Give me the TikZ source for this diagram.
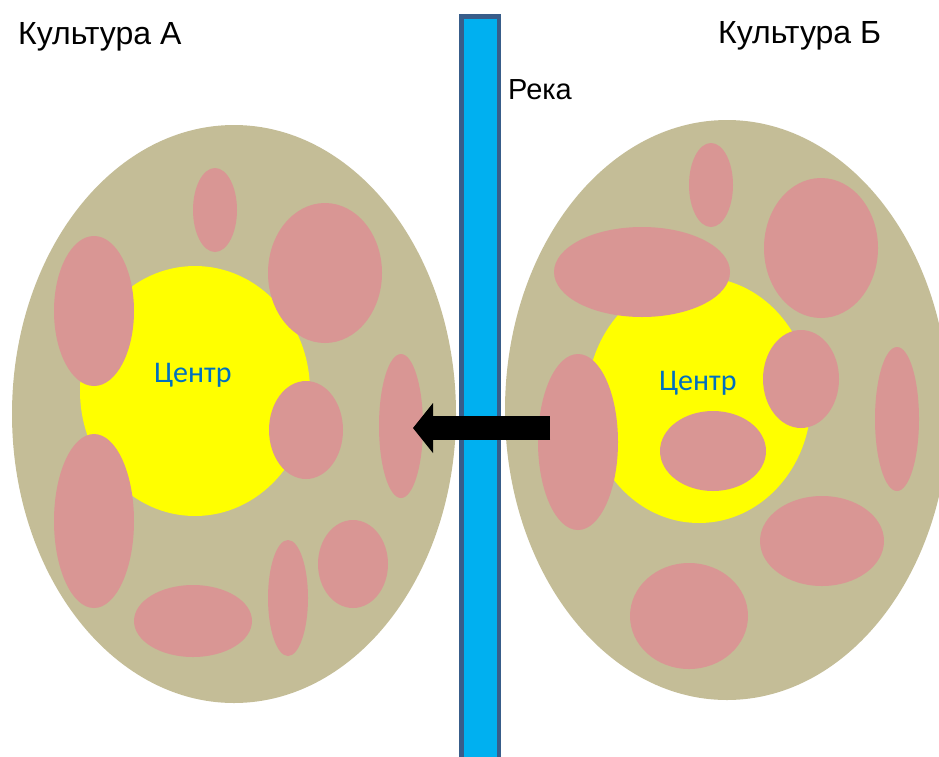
\documentclass[tikz,border=0pt]{standalone}
\usepackage{fontspec}
\setmainfont{Liberation Sans}
\newfontfamily\centrefont{Carlito}
\usetikzlibrary{arrows.meta}
\definecolor{CultTan}{HTML}{C4BD97}
\definecolor{CultPink}{HTML}{D99694}
\definecolor{CentreYellow}{RGB}{255,255,0}
\definecolor{RiverBlue}{HTML}{00B0F0}
\definecolor{RiverEdge}{HTML}{385D8A}
\definecolor{CentreBlue}{HTML}{0070C0}

\begin{document}
\begin{tikzpicture}[x=1pt,y=-1pt,
  blob/.style={fill=CultPink},
  title/.style={font=\fontsize{32}{38}\selectfont,anchor=base west,inner sep=0pt},
  centre/.style={font=\centrefont\fontsize{30}{36}\selectfont,text=CentreBlue,anchor=base west,inner sep=0pt}]
\useasboundingbox (0,0) rectangle (939,756);
\clip (0,0) rectangle (939,756);
% two cultures
\fill[CultTan] (234,414) ellipse [x radius=222,y radius=289];
\fill[CultTan] (727,410) ellipse [x radius=222,y radius=290];
\fill[CentreYellow] (195,391) ellipse [x radius=115,y radius=125];
\fill[CentreYellow] (699,400) ellipse [x radius=112,y radius=123];
\foreach \cx/\cy/\rx/\ry in {215/210/22/42, 94/311/40/75, 325/273/57/70,
    306/430/37/49, 401/426/22/72, 94/521/40/87, 193/621/59/36,
    288/598/20/58, 353/564/35/44,
    711/185/22/42, 821/248/57/70, 642/272/88/45, 801/379/38/49,
    897/419/22/72, 578/442/40/88, 713/451/53/40, 822/541/62/45,
    689/616/59/53}
  \fill[blob] (\cx,\cy) ellipse [x radius=\rx,y radius=\ry];
\node[centre] (centreA) at (154,382) {Центр};
\node[centre] (centreB) at (659,390) {Центр};
% river
\draw[line width=4.5pt,draw=RiverEdge,fill=RiverBlue] (461.25,16.25) rectangle (498.75,780);
\node[title,font=\fontsize{29}{35}\selectfont] (riverlabel) at (508,99) {Река};
\node[title] (cultA) at (18,44) {Культура А};
\node[title] (cultB) at (718,43) {Культура Б};
% contact arrow
\coordinate (arrowtail) at (550,428);
\coordinate (arrowtip) at (413,428);
\draw[line width=24pt,-{Triangle[length=20pt,width=50pt,line width=0pt]}] (arrowtail) -- (arrowtip);
\end{tikzpicture}
\end{document}
